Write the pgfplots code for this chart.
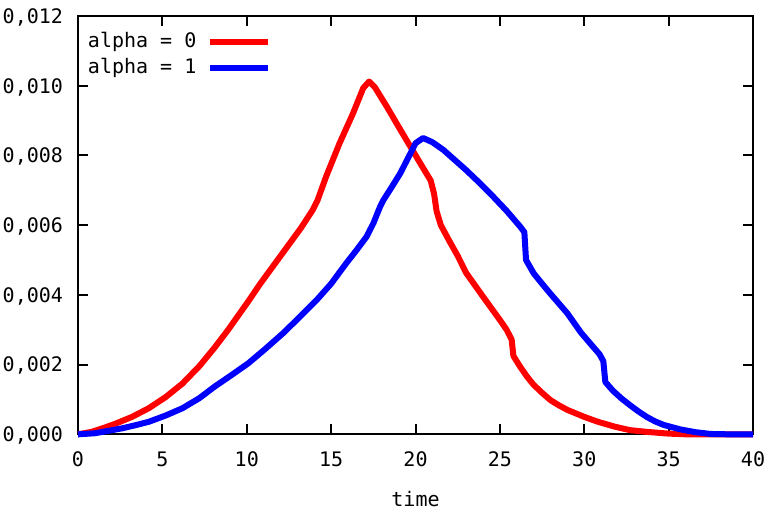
\documentclass[border=0pt]{standalone}
\usepackage{pgfplots}
\pgfplotsset{compat=1.18}
\usepackage{fontspec}
\setmainfont{DejaVu Sans Mono}

\begin{document}
\begin{tikzpicture}
\path[use as bounding box] (-39pt,-40.35pt) rectangle (351pt,217.15pt);
\begin{axis}[
  at={(0,0)}, anchor=south west,
  scale only axis, width=337.5pt, height=209.15pt,
  xmin=0, xmax=40, ymin=0, ymax=0.012,
  xtick={0,5,...,40},
  ytick={0,0.002,0.004,0.006,0.008,0.010,0.012},
  scaled y ticks=false,
  /pgf/number format/assume math mode=true,
  yticklabel style={/pgf/number format/fixed,
    /pgf/number format/fixed zerofill,
    /pgf/number format/precision=3,
    /pgf/number format/use comma,
    anchor=base east, xshift=-4pt, yshift=-3.7pt},
  xticklabel style={anchor=base, yshift=-16pt},
  tick label style={font=\fontsize{10}{12}\selectfont},
  tick style={line width=1pt, black},
  major tick length=5pt,
  axis line style={line width=1pt},
  xlabel={time},
  xlabel style={at={(axis description cs:0.5,0)}, anchor=base, yshift=-36.2pt},
  clip=false,
  legend plot pos=right,
  legend cell align=left,
  legend image code/.code={\draw[#1, line width=3pt] (0pt,0pt) -- (29pt,0pt);},
  legend style={draw=none, fill=none, at={(0,1)}, anchor=north west,
    xshift=5pt, yshift=-8.5pt, inner sep=0pt, outer sep=0pt,
    row sep=4pt, column sep=5.5pt,
    nodes={inner sep=0pt, text height=7pt, text depth=2pt}},
]
% alpha = 0
\addplot[red, line width=3pt, line join=round] coordinates {
(0,0) (0.8,0.00007) (1.5,0.00018) (2.2,0.00030) (3.2,0.00050) (4.2,0.00075)
(5.2,0.00107) (6.2,0.00146) (7.2,0.00196) (8.1,0.00249) (8.9,0.00300)
(9.5,0.00341) (10.1,0.00382) (10.8,0.00432) (11.6,0.00485) (12.4,0.00538)
(13.2,0.00591) (13.9,0.00643) (14.2,0.00672)
(14.7,0.00739) (15.5,0.00835) (16.3,0.00921) (16.9,0.00993) (17.25,0.01012)
(17.6,0.00995) (18.3,0.00940) (19.0,0.00882) (19.7,0.00825) (20.4,0.00768)
(20.9,0.00728) (21.1,0.00690) (21.25,0.00640) (21.5,0.00600) (22.0,0.00555)
(22.5,0.00512) (23.0,0.00463) (24.0,0.00395) (25.0,0.00328) (25.4,0.00300)
(25.7,0.00271) (25.8,0.00225) (26.2,0.00194) (26.6,0.00166) (27.0,0.00142)
(27.5,0.00119) (28.0,0.00098) (28.5,0.00083) (29.0,0.00070) (29.5,0.00060)
(30.0,0.00050) (30.8,0.00036) (31.8,0.00022) (32.7,0.00012) (33.7,0.00007)
(35.0,0.00002) (36.0,0) (40,0)
};
\addlegendentry{alpha = 0}
% alpha = 1
\addplot[blue, line width=3pt, line join=round] coordinates {
(0,0) (1.0,0.00003) (2.6,0.00017) (3.4,0.00026) (4.2,0.00036) (5.2,0.00054)
(6.2,0.00075) (7.2,0.00104) (8.1,0.00137) (9.1,0.00170) (10.1,0.00204)
(11.1,0.00245) (12.2,0.00292) (13.1,0.00335) (14.1,0.00383) (15.0,0.00432)
(15.9,0.00491) (16.5,0.00528) (17.1,0.00567) (17.5,0.00605) (17.9,0.00653)
(18.1,0.00672) (18.6,0.00710) (19.1,0.00749)
(19.7,0.00806) (20.0,0.00835) (20.45,0.00850) (21.0,0.00838) (21.65,0.00816)
(22.3,0.00788) (23.0,0.00758) (23.8,0.00721) (24.6,0.00682) (25.4,0.00641)
(26.2,0.00596) (26.45,0.00580) (26.55,0.00500)
(27.0,0.00462) (27.5,0.00432) (28.0,0.00403) (28.5,0.00375) (29.0,0.00347)
(29.8,0.00292) (30.4,0.00258) (30.9,0.00230)
(31.13,0.00210) (31.25,0.00150) (31.7,0.00125) (32.2,0.00103) (32.7,0.00084)
(33.2,0.00066) (33.7,0.00050) (34.2,0.00037)
(34.7,0.00027) (35.7,0.00014) (36.6,0.00006) (37.5,0.00001) (38.5,0) (40,0)
};
\addlegendentry{alpha = 1}
\end{axis}
\end{tikzpicture}
\end{document}
